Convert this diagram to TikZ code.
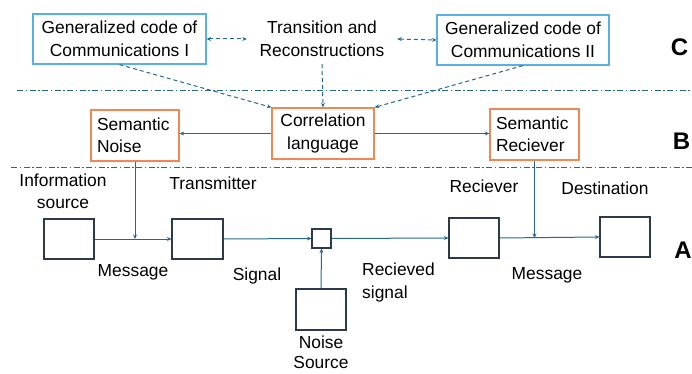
\documentclass[tikz,border=0pt]{standalone}
\usepackage{fontspec}
\setmainfont{Liberation Sans}
\usetikzlibrary{arrows.meta}
\definecolor{wire}{RGB}{38,104,142}
\definecolor{skyedge}{RGB}{90,176,224}
\definecolor{orangeedge}{RGB}{240,136,84}
\definecolor{blockedge}{RGB}{45,58,72}
\tikzset{
  txt/.style={font=\fontsize{17.4}{22.5}\selectfont, align=center, inner sep=0pt},
  codebox/.style={txt, draw=skyedge, line width=1.2pt, minimum height=50pt},
  sembox/.style={txt, draw=orangeedge, line width=1.3pt, minimum height=51pt},
  block/.style={draw=blockedge, line width=1.1pt, inner sep=0pt},
  tip/.style={-{Stealth[length=4.5pt,width=4pt]}},
  link/.style={draw=wire, line width=1pt, tip},
  dlink/.style={link, dash pattern=on 4pt off 3pt},
  divider/.style={draw=wire, line width=0.9pt, dash pattern=on 6pt off 2.5pt on 1.5pt off 2.5pt},
  layer/.style={font=\fontsize{24}{24}\selectfont\bfseries, inner sep=0pt}
}
\begin{document}
\begin{tikzpicture}[x=1pt,y=-1pt]
\useasboundingbox (0,0) rectangle (692,374);

% layer C: generalized codes
\node[codebox, minimum width=173pt] (gc1) at (119.5,39) {Generalized code of\\Communications I};
\node[codebox, minimum width=172pt] (gc2) at (523,40) {Generalized code of\\Communications II};
\node[txt, minimum width=150pt, minimum height=50pt] (trans) at (322,39) {Transition and\\Reconstructions};

% layer B: semantic level
\node[sembox, minimum width=88pt, align=left, text width=76pt] (sn) at (135,135.5) {Semantic\\Noise};
\node[sembox, minimum width=102pt] (corr) at (323,133.5) {Correlation\\language};
\node[sembox, minimum width=89pt, align=left, text width=77pt] (sr) at (534.5,134.5) {Semantic\\Reciever};

% layer A: technical level
\node[block, minimum width=50pt, minimum height=40pt] (src) at (69,239) {};
\node[block, minimum width=51pt, minimum height=40pt] (tx) at (197.5,239) {};
\node[block, minimum width=19pt, minimum height=19pt] (mix) at (321.5,238.5) {};
\node[block, minimum width=50pt, minimum height=41pt] (ns) at (321,309.5) {};
\node[block, minimum width=50pt, minimum height=40pt] (rx) at (474,238) {};
\node[block, minimum width=50pt, minimum height=40pt] (dst) at (625,237) {};

% layer dividers
\coordinate (cL) at (17,90);  \coordinate (cR) at (692,90);
\coordinate (bL) at (11,167); \coordinate (bR) at (692,167);
\draw[divider] (cL) -- (cR);
\draw[divider] (bL) -- (bR);

% connectors of layer C
\draw[dlink, {Stealth[length=4.5pt,width=4pt]}-{Stealth[length=4.5pt,width=4pt]}] (gc1.east) -- (trans.west);
\draw[dlink, {Stealth[length=4.5pt,width=4pt]}-{Stealth[length=4.5pt,width=4pt]}] (trans.east) -- (gc2.west);
\draw[dlink] (gc1.south) -- (corr.north west);
\draw[dlink] (trans.south) -- (corr.north);
\draw[dlink] (gc2.south) -- (corr.north east);

% connectors of layer B
\draw[link] (corr.west) -- (corr.west -| sn.east);
\draw[link] (corr.east) -- (corr.east -| sr.west);
\draw[link] (sn.south) -- (sn.south |- src.east);
\draw[link] (sr.south) -- (sr.south |- rx.east);

% connectors of layer A
\draw[link] (src.east) -- (tx.west);
\draw[link] (tx.east) -- (mix.west);
\draw[link] (ns.north) -- (mix.south);
\draw[link] (mix.east) -- (rx.west);
\draw[link] (rx.east) -- (dst.west);

% labels
\node[txt] (lsrc) at (63,191.5) {Information\\source};
\node[txt] (ltx) at (213,183) {Transmitter};
\node[txt] (lmsg1) at (133,272) {Message};
\node[txt] (lsig) at (257,276) {Signal};
\node[txt, font=\fontsize{17.4}{20}\selectfont] (lns) at (321,352) {Noise\\Source};
\node[txt, align=left, anchor=west] (lrs) at (362,282.5) {Recieved\\signal};
\node[txt] (lrx) at (484,186) {Reciever};
\node[txt] (ldst) at (605,188) {Destination};
\node[txt] (lmsg2) at (547,275) {Message};

% layer letters
\node[layer] (lc) at (679.5,47) {C};
\node[layer] (lb) at (681.5,141) {B};
\node[layer] (la) at (683,250) {A};
\end{tikzpicture}
\end{document}
